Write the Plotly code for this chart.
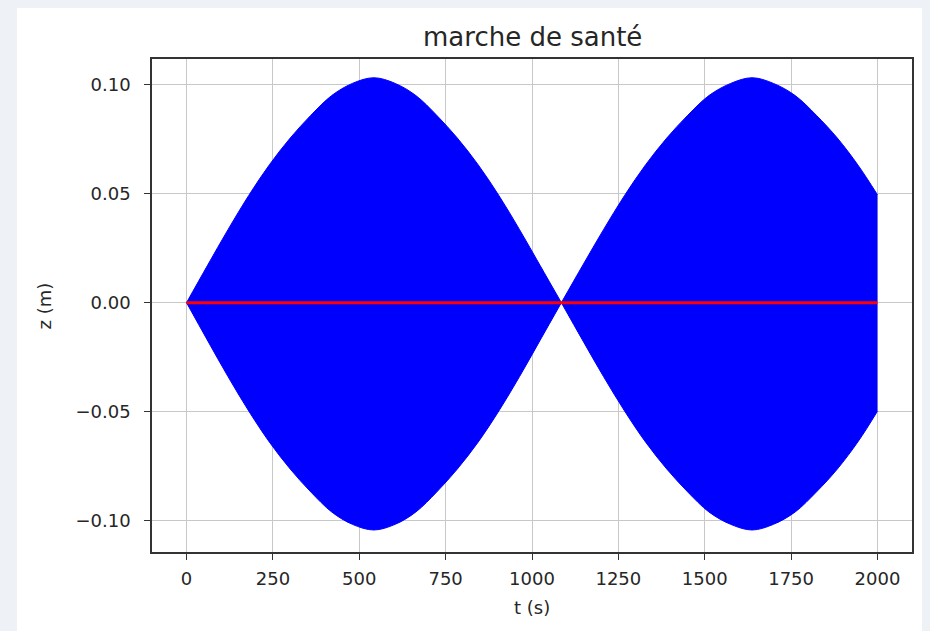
import plotly.graph_objects as go

# Envelope of the dense oscillation (t in s, z in m)
t_lobe1 = [0, 60, 120, 180, 240, 300, 360, 420, 480, 542,
           604, 664, 724, 784, 844, 904, 964, 1024, 1085]
upper_lobe1 = [0, 0.0169, 0.0335, 0.0492, 0.0633, 0.0755, 0.0860, 0.0950, 0.1006, 0.1032,
               0.1006, 0.0950, 0.0860, 0.0755, 0.0633, 0.0492, 0.0335, 0.0169, 0.0]
lower_lobe1 = [0, -0.0171, -0.0339, -0.0497, -0.0640, -0.0763, -0.0869, -0.0960, -0.1017, -0.1043,
               -0.1017, -0.0960, -0.0869, -0.0763, -0.0640, -0.0497, -0.0339, -0.0171, 0.0]

t_lobe2 = [1085, 1146, 1207, 1268, 1329, 1390, 1451, 1512, 1575, 1637,
           1699, 1762, 1823, 1884, 1945, 2000]
upper_lobe2 = [0.0, 0.0169, 0.0335, 0.0492, 0.0633, 0.0755, 0.0860, 0.0950, 0.1006, 0.1032,
               0.1006, 0.0950, 0.0860, 0.0755, 0.0628, 0.0495]
lower_lobe2 = [0.0, -0.0171, -0.0339, -0.0497, -0.0640, -0.0763, -0.0869, -0.0960, -0.1017, -0.1043,
               -0.1017, -0.0960, -0.0869, -0.0763, -0.0635, -0.0498]

# Red reference line
t_red = [0, 2000]
z_red = [0, 0]

x_ticks = [0, 250, 500, 750, 1000, 1250, 1500, 1750, 2000]
x_ticktext = ["0", "250", "500", "750", "1000", "1250", "1500", "1750", "2000"]
y_ticks = [-0.10, -0.05, 0.0, 0.05, 0.10]
y_ticktext = ["\u22120.10", "\u22120.05", "0.00", "0.05", "0.10"]

BLUE = "#0000ff"
FONT = "DejaVu Sans"
PAGE_BG = "#eef2f7"

fig = go.Figure()
for tt, zz in [(t_lobe1, upper_lobe1), (t_lobe1, lower_lobe1),
               (t_lobe2, upper_lobe2), (t_lobe2, lower_lobe2)]:
    fig.add_trace(go.Scatter(
        x=tt, y=zz, mode="lines", fill="tozeroy",
        line=dict(color=BLUE, width=1, shape="spline", smoothing=1.0),
        fillcolor=BLUE, showlegend=False, hoverinfo="skip"))

fig.add_trace(go.Scatter(x=t_red, y=z_red, mode="lines",
                         line=dict(color="#ff0000", width=3), showlegend=False))

axis_common = dict(
    showline=True, mirror=True, linecolor="#333333", linewidth=1.6,
    showgrid=True, gridcolor="#c8c8c8", gridwidth=1.4,
    zeroline=False, ticks="outside", ticklen=6, tickwidth=1.4, tickcolor="#333333",
    tickfont=dict(family=FONT, size=18, color="#262626"),
)

fig.update_xaxes(range=[-100, 2100], tickvals=x_ticks, ticktext=x_ticktext,
                 ticklabelstandoff=4, **axis_common)
fig.update_yaxes(range=[-0.1144, 0.1118], tickvals=y_ticks, ticktext=y_ticktext,
                 ticklabelstandoff=10, **axis_common)

fig.update_layout(
    width=922, height=623,
    margin=dict(l=144, r=18, t=51, b=79),
    paper_bgcolor=PAGE_BG, plot_bgcolor="white",
    showlegend=False,
    shapes=[dict(type="rect", xref="paper", yref="paper",
                 x0=-0.1776, x1=1.0145, y0=-0.2, y1=1.2,
                 fillcolor="white", line=dict(width=0), layer="below")],
    annotations=[
        dict(text="marche de santé", xref="paper", yref="paper", x=0.5, y=1.0446,
             xanchor="center", yanchor="middle", showarrow=False,
             font=dict(family=FONT, size=26, color="#262626")),
        dict(text="z (m)", xref="paper", yref="paper", x=-0.1408, y=0.5,
             xanchor="center", yanchor="middle", textangle=-90, showarrow=False,
             font=dict(family=FONT, size=18, color="#262626")),
        dict(text="t (s)", xref="paper", yref="paper", x=0.5, y=-0.1116,
             xanchor="center", yanchor="middle", showarrow=False,
             font=dict(family=FONT, size=18, color="#262626")),
    ],
)

fig.write_html("out.html", post_script="document.body.style.background='%s';" % PAGE_BG)
